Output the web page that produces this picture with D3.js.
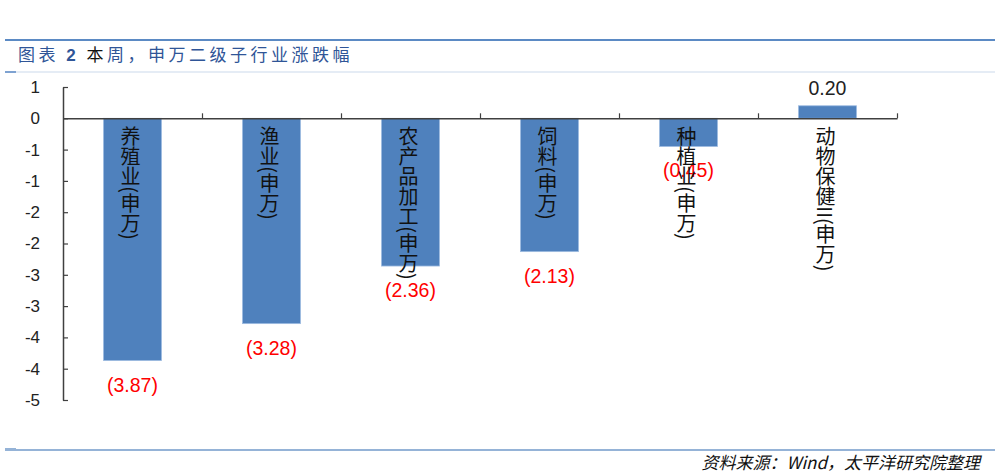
<!DOCTYPE html>
<html>
<head>
<meta charset="utf-8">
<script src="https://cdn.jsdelivr.net/npm/d3@7"></script>
<style>
  html, body { margin: 0; padding: 0; background: #fff; }
  svg { display: block; }
</style>
</head>
<body>
<div id="chart"></div>
<script>
// chart data
var categories = ["养殖业(申万)", "渔业(申万)", "农产品加工(申万)", "饲料(申万)", "种植业(申万)", "动物保健II(申万)"];
var changes = [-3.87, -3.28, -2.36, -2.13, -0.45, 0.20];
var yTicks = [-4.5, -4, -3.5, -3, -2.5, -2, -1.5, -1, -0.5, 0, 0.5];

var titleParts = [
  {t: "图表 ", c: "#2f5597", w: "normal", f: "'Noto Sans CJK SC'"},
  {t: "2", c: "#2f5597", w: "bold", f: "'Liberation Sans', Arial"},
  {t: " 本", c: "#111", w: "normal", f: "'Noto Sans CJK SC'"},
  {t: "周，申万二级子行业涨跌幅", c: "#2f5597", w: "normal", f: "'Noto Sans CJK SC'"}
];
var sourceText = "资料来源：Wind，太平洋研究院整理";

var width = 1000, height = 476;
var margin = {top: 87, left: 63, right: 103, bottom: 76};

var svg = d3.select("#chart").append("svg")
    .attr("width", width)
    .attr("height", height);

// frame lines of the report page
svg.append("line").attr("x1", 5).attr("x2", 995).attr("y1", 40).attr("y2", 40)
    .attr("stroke", "#5b8ac4").attr("stroke-width", 2);
svg.append("line").attr("x1", 5).attr("x2", 995).attr("y1", 72).attr("y2", 72)
    .attr("stroke", "#dce6f2").attr("stroke-width", 1.5);
svg.append("line").attr("x1", 5).attr("x2", 16).attr("y1", 72).attr("y2", 72)
    .attr("stroke", "#5b8ac4").attr("stroke-width", 1.5);
svg.append("line").attr("x1", 5).attr("x2", 995).attr("y1", 450).attr("y2", 450)
    .attr("stroke", "#95b3d7").attr("stroke-width", 2);
svg.append("line").attr("x1", 5).attr("x2", 16).attr("y1", 449).attr("y2", 449)
    .attr("stroke", "#95b3d7").attr("stroke-width", 2);

// title
var title = svg.append("text")
    .attr("x", 18)
    .attr("y", 61)
    .attr("font-size", 17)
    .attr("letter-spacing", 3.5);
title.selectAll("tspan")
    .data(titleParts)
    .enter()
    .append("tspan")
    .attr("fill", d => d.c)
    .attr("font-weight", d => d.w)
    .attr("font-family", d => d.f)
    .attr("xml:space", "preserve")
    .text(d => d.t);

// source note
svg.append("text")
    .attr("x", 980)
    .attr("y", 469)
    .attr("text-anchor", "end")
    .attr("font-family", "'Noto Sans CJK SC'")
    .attr("font-style", "italic")
    .attr("font-size", 17)
    .attr("fill", "#111")
    .text(sourceText);

// scales
var x = d3.scaleBand()
    .domain(categories)
    .range([63, 897])
    .paddingInner(0.583)
    .paddingOuter(0.2915);

var xEdge = d3.scaleLinear().domain([0, categories.length]).range([63, 897]);

var y = d3.scaleLinear().domain([-4.5, 0.5]).range([400, 87]);

// excel style "0" number format (round half away from zero)
function fmtTick(d) {
  var r = Math.sign(d) * Math.round(Math.abs(d));
  return r === 0 ? "0" : String(r);
}

// bars
svg.append("g").selectAll("rect")
    .data(changes)
    .enter()
    .append("rect")
    .attr("x", (d, i) => x(categories[i]))
    .attr("width", x.bandwidth())
    .attr("y", d => y(Math.max(d, 0)))
    .attr("height", d => Math.abs(y(d) - y(0)))
    .attr("fill", "#4f81bd")
    .attr("stroke", "#9dbbe0")
    .attr("stroke-width", 0.8);

// y axis
var yAxis = svg.append("g")
    .attr("transform", "translate(63,0)")
    .call(d3.axisLeft(y)
      .tickValues(yTicks)
      .tickFormat(fmtTick)
      .tickSizeInner(-5)
      .tickSizeOuter(0)
      .tickPadding(23));
yAxis.select(".domain").attr("stroke", "#404040").attr("stroke-width", 1.5);
yAxis.selectAll(".tick line").attr("stroke", "#404040").attr("stroke-width", 1.2);
yAxis.selectAll(".tick text")
    .attr("font-family", "'Liberation Sans', Arial")
    .attr("font-size", 17)
    .attr("fill", "#222");

// x axis along zero, ticks at category edges
var xAxis = svg.append("g")
    .attr("transform", "translate(0," + y(0) + ")")
    .call(d3.axisTop(xEdge)
      .tickValues(d3.range(1, categories.length + 1))
      .tickFormat("")
      .tickSizeInner(5)
      .tickSizeOuter(0));
xAxis.select(".domain").attr("stroke", "#404040").attr("stroke-width", 1.5);
xAxis.selectAll(".tick line").attr("stroke", "#404040").attr("stroke-width", 1.2);

// value labels
svg.append("g").selectAll("text")
    .data(changes)
    .enter()
    .append("text")
    .attr("x", (d, i) => x(categories[i]) + x.bandwidth() / 2)
    .attr("y", d => d < 0 ? y(d) + 31 : y(d) - 11)
    .attr("text-anchor", "middle")
    .attr("font-family", "'Liberation Sans', Arial")
    .attr("font-size", 19.5)
    .attr("fill", d => d < 0 ? "#ff0000" : "#222")
    .text(d => d < 0 ? "(" + Math.abs(d).toFixed(2) + ")" : d.toFixed(2));

// category labels, written top to bottom
svg.append("g").selectAll("text")
    .data(categories)
    .enter()
    .append("text")
    .attr("x", d => x(d) + x.bandwidth() / 2 - 2)
    .attr("y", y(0) + 8)
    .style("writing-mode", "vertical-rl")
    .style("text-orientation", "mixed")
    .attr("font-family", "'Noto Sans CJK SC'")
    .attr("font-size", 20)
    .attr("fill", "#111")
    .text(d => d);
</script>
</body>
</html>
